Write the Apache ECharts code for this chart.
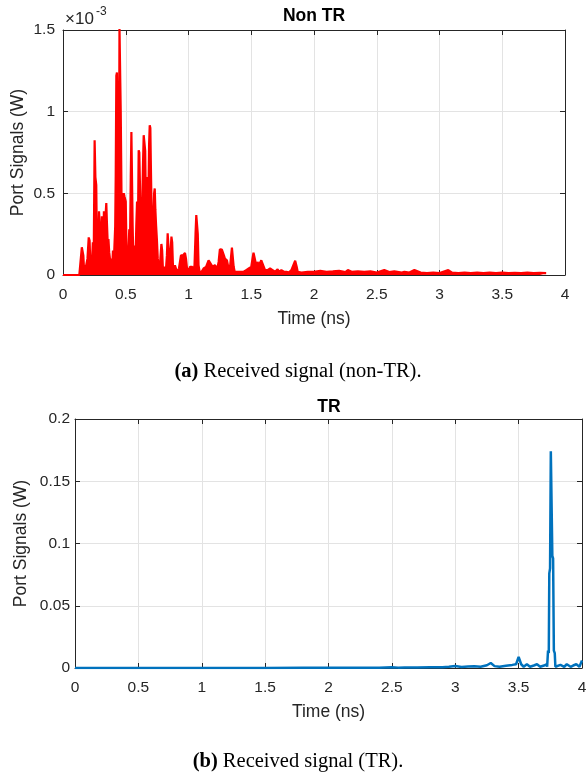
<!DOCTYPE html>
<html>
<head>
<meta charset="utf-8">
<script src="https://cdn.jsdelivr.net/npm/echarts@6/dist/echarts.min.js"></script>
<style>
  html, body { margin: 0; padding: 0; background: #fff; }
  #chart { width: 586px; height: 776px; }
</style>
</head>
<body>
<div id="chart"></div>
<script>
// Non TR received power, time in ns, power in units of 1e-3 W
const nonTrTime = [
  0, 0.13, 0.14, 0.15, 0.156, 0.162, 0.168, 0.175, 0.185, 0.195, 0.205, 0.212, 0.218, 0.225, 0.232, 0.238, 0.245,
  0.252, 0.258, 0.265, 0.27, 0.275, 0.28, 0.287, 0.293, 0.3, 0.305, 0.31, 0.315, 0.32, 0.326, 0.332, 0.338, 0.345,
  0.35, 0.356, 0.362, 0.368, 0.374, 0.38, 0.386, 0.392, 0.398, 0.404, 0.41, 0.416, 0.42, 0.425, 0.43, 0.436, 0.44,
  0.445, 0.45, 0.455, 0.46, 0.466, 0.472, 0.478, 0.484, 0.49, 0.496, 0.5, 0.505, 0.51, 0.516, 0.522, 0.528, 0.534,
  0.54, 0.545, 0.55, 0.555, 0.56, 0.566, 0.572, 0.578, 0.584, 0.59, 0.596, 0.603, 0.608, 0.613, 0.618, 0.623, 0.628,
  0.633, 0.638, 0.643, 0.648, 0.655, 0.66, 0.665, 0.67, 0.675, 0.68, 0.686, 0.691, 0.696, 0.7, 0.705, 0.71, 0.716,
  0.72, 0.726, 0.731, 0.736, 0.742, 0.748, 0.755, 0.762, 0.77, 0.776, 0.784, 0.79, 0.796, 0.804, 0.812, 0.82, 0.828,
  0.834, 0.84, 0.846, 0.852, 0.858, 0.864, 0.87, 0.876, 0.884, 0.892, 0.9, 0.908, 0.916, 0.924, 0.932, 0.94, 0.948,
  0.956, 0.964, 0.972, 0.98, 0.988, 0.996, 1.004, 1.012, 1.02, 1.03, 1.04, 1.048, 1.056, 1.062, 1.068, 1.074, 1.08,
  1.088, 1.096, 1.104, 1.112, 1.12, 1.13, 1.14, 1.15, 1.16, 1.168, 1.176, 1.184, 1.192, 1.2, 1.21, 1.22, 1.23, 1.24,
  1.25, 1.258, 1.266, 1.274, 1.282, 1.29, 1.298, 1.306, 1.314, 1.322, 1.33, 1.34, 1.346, 1.352, 1.36, 1.368, 1.376,
  1.384, 1.392, 1.4, 1.41, 1.42, 1.43, 1.44, 1.45, 1.46, 1.47, 1.48, 1.49, 1.5, 1.51, 1.518, 1.526, 1.534, 1.542,
  1.55, 1.56, 1.57, 1.58, 1.59, 1.6, 1.61, 1.62, 1.63, 1.64, 1.65, 1.66, 1.67, 1.68, 1.69, 1.7, 1.71, 1.72, 1.73,
  1.74, 1.75, 1.76, 1.77, 1.78, 1.79, 1.8, 1.81, 1.82, 1.83, 1.84, 1.85, 1.856, 1.862, 1.87, 1.88, 1.9, 1.95, 2.0,
  2.05, 2.1, 2.15, 2.2, 2.25, 2.27, 2.3, 2.35, 2.4, 2.45, 2.5, 2.56, 2.6, 2.64, 2.7, 2.72, 2.76, 2.8, 2.85, 2.9,
  2.95, 3.0, 3.07, 3.1, 3.15, 3.2, 3.25, 3.3, 3.35, 3.4, 3.45, 3.5, 3.55, 3.6, 3.65, 3.7, 3.75, 3.8, 3.85
];
const nonTrPower = [
  0, 0, 0.01, 0.17, 0.18, 0.12, 0.03, 0.02, 0.06, 0.1, 0.23, 0.21, 0.06, 0.03, 0.1, 0.2, 0.12,
  0.825, 0.6, 0.55, 0.2, 0.08, 0.16, 0.39, 0.3, 0.12, 0.2, 0.36, 0.25, 0.15, 0.39, 0.3, 0.35, 0.44,
  0.32, 0.2, 0.22, 0.14, 0.1, 0.05, 0.1, 0.04, 0.15, 0.06, 0.18, 0.3, 0.6, 1.22, 1.24, 0.9, 0.4,
  0.3, 1.52, 1.52, 1.0, 0.5, 0.2, 0.48, 0.5, 0.48, 0.49, 0.45, 0.2, 0.04, 0.06, 0.15, 0.28, 0.2,
  0.6, 0.876, 0.87, 0.3, 0.12, 0.05, 0.18, 0.1, 0.3, 0.45, 0.2, 0.764, 0.75, 0.56, 0.3, 0.15, 0.3,
  0.5, 0.7, 0.856, 0.85, 0.76, 0.45, 0.6, 0.4, 0.3, 0.45, 0.8, 0.917, 0.9, 0.68, 0.43, 0.3, 0.25,
  0.35, 0.5, 0.53, 0.4, 0.3, 0.22, 0.1, 0.06, 0.03, 0.1, 0.19, 0.15, 0.04, 0.02, 0.05, 0.03, 0.12,
  0.255, 0.25, 0.1, 0.06, 0.15, 0.235, 0.2, 0.06, 0.03, 0.06, 0.04, 0.05, 0.02, 0.04, 0.08, 0.12, 0.11,
  0.12, 0.13, 0.135, 0.1, 0.04, 0.05, 0.03, 0.05, 0.04, 0.05, 0.03, 0.06, 0.25, 0.367, 0.36, 0.25, 0.06,
  0.02, 0.01, 0.02, 0.03, 0.04, 0.03, 0.05, 0.06, 0.09, 0.09, 0.07, 0.06, 0.05, 0.04, 0.06, 0.05, 0.04, 0.08,
  0.157, 0.15, 0.155, 0.157, 0.12, 0.1, 0.11, 0.09, 0.06, 0.05, 0.04, 0.12, 0.167, 0.16, 0.05, 0.02, 0.01,
  0.02, 0.03, 0.02, 0.03, 0.02, 0.03, 0.02, 0.01, 0.03, 0.02, 0.04, 0.03, 0.05, 0.1, 0.137, 0.13, 0.08, 0.05,
  0.08, 0.06, 0.05, 0.09, 0.092, 0.05, 0.03, 0.02, 0.03, 0.02, 0.04, 0.04, 0.03, 0.035, 0.02, 0.03, 0.035, 0.02, 0.02,
  0.03, 0.025, 0.02, 0.03, 0.02, 0.02, 0.015, 0.02, 0.03, 0.05, 0.05, 0.087, 0.087, 0.05, 0.02, 0.01, 0.015, 0.02, 0.02,
  0.025, 0.02, 0.022, 0.025, 0.018, 0.03, 0.02, 0.022, 0.02, 0.022, 0.015, 0.03, 0.018, 0.022, 0.015, 0.02, 0.015, 0.03, 0.015, 0.012,
  0.015, 0.012, 0.03, 0.015, 0.012, 0.015, 0.012, 0.015, 0.012, 0.014, 0.012, 0.015, 0.012, 0.013, 0.012, 0.014, 0.012, 0.013, 0.012
];

// TR received power, time in ns, power in W
const trTime = [
  0, 0.5, 1.0, 1.5, 1.8, 2.0, 2.2, 2.4, 2.5, 2.55, 2.6, 2.7, 2.8, 2.9, 2.95, 3.0, 3.05, 3.1, 3.15, 3.2, 3.25,
  3.28, 3.31, 3.35, 3.4, 3.45, 3.48, 3.5, 3.52, 3.54, 3.565, 3.59, 3.62, 3.645, 3.67, 3.7, 3.72, 3.725, 3.732,
  3.738, 3.742, 3.748, 3.754, 3.76, 3.766, 3.772, 3.778, 3.785, 3.79, 3.8, 3.83, 3.86, 3.88, 3.91, 3.93, 3.955,
  3.98, 4.0
];
const trPower = [
  0, 0.0001, 0.0001, 0.0001, 0.0002, 0.0002, 0.0002, 0.0003, 0.0006, 0.0003, 0.0005, 0.0004, 0.0006, 0.0007, 0.001,
  0.0016, 0.0008, 0.0012, 0.0015, 0.001, 0.0022, 0.004, 0.0015, 0.001, 0.0018, 0.0025, 0.003, 0.009, 0.003, 0.001,
  0.003, 0.001, 0.002, 0.003, 0.001, 0.002, 0.003, 0.001, 0.014, 0.012, 0.076, 0.08, 0.174, 0.1745, 0.09, 0.088,
  0.014, 0.012, 0.001, 0.001, 0.0025, 0.001, 0.003, 0.001, 0.002, 0.003, 0.001, 0.006
];

const xTicks = { min: 0, max: 4, interval: 0.5 };
const topYTicks = { min: 0, max: 1.5, interval: 0.5 };
const bottomYTicks = { min: 0, max: 0.2, interval: 0.05 };

const axisColor = '#262626';
const gridColor = '#e3e3e3';
const sans = 'Liberation Sans, Arial, sans-serif';

function pairs(xs, ys) {
  return xs.map((x, i) => [x, ys[i]]);
}

function mainX(gridIndex) {
  return {
    type: 'value', gridIndex, position: 'bottom', ...xTicks,
    axisLine: { show: true, onZero: false, lineStyle: { color: axisColor, width: 1 } },
    axisTick: { show: true, inside: true, length: 5, lineStyle: { color: axisColor } },
    splitLine: { show: true, lineStyle: { color: gridColor, width: 1 } },
    axisLabel: { color: axisColor, fontFamily: sans, fontSize: 15.5, margin: 12 },
    name: 'Time (ns)', nameLocation: 'middle', nameGap: 35, nameMoveOverlap: false,
    nameTextStyle: { color: axisColor, fontFamily: sans, fontSize: 17.5 }
  };
}

function mirrorX(gridIndex) {
  return {
    type: 'value', gridIndex, position: 'top', ...xTicks,
    axisLine: { show: true, onZero: false, lineStyle: { color: axisColor, width: 1 } },
    axisTick: { show: true, inside: true, length: 5, lineStyle: { color: axisColor } },
    splitLine: { show: false },
    axisLabel: { show: false }
  };
}

function mainY(gridIndex, ticks, gap, margin) {
  return {
    type: 'value', gridIndex, position: 'left', ...ticks,
    axisLine: { show: true, onZero: false, lineStyle: { color: axisColor, width: 1 } },
    axisTick: { show: true, inside: true, length: 5, lineStyle: { color: axisColor } },
    splitLine: { show: true, lineStyle: { color: gridColor, width: 1 } },
    axisLabel: { color: axisColor, fontFamily: sans, fontSize: 15.5, margin },
    name: 'Port Signals (W)', nameLocation: 'middle', nameGap: gap, nameMoveOverlap: false,
    nameTextStyle: { color: axisColor, fontFamily: sans, fontSize: 17.5 }
  };
}

function mirrorY(gridIndex, ticks) {
  return {
    type: 'value', gridIndex, position: 'right', ...ticks,
    axisLine: { show: true, onZero: false, lineStyle: { color: axisColor, width: 1 } },
    axisTick: { show: true, inside: true, length: 5, lineStyle: { color: axisColor } },
    splitLine: { show: false },
    axisLabel: { show: false }
  };
}

const chart = echarts.init(document.getElementById('chart'), null, { renderer: 'canvas' });

chart.setOption({
  animation: false,
  backgroundColor: '#fff',
  grid: [
    { left: 63, top: 30, width: 502, height: 245, outerBoundsMode: 'none', containLabel: false },
    { left: 75, top: 419, width: 507, height: 249, outerBoundsMode: 'none', containLabel: false }
  ],
  xAxis: [mainX(0), mirrorX(0), mainX(1), mirrorX(1)],
  yAxis: [mainY(0, topYTicks, 36, 8), mirrorY(0, topYTicks), mainY(1, bottomYTicks, 45, 5), mirrorY(1, bottomYTicks)],
  series: [
    {
      type: 'line', xAxisIndex: 0, yAxisIndex: 0,
      data: pairs(nonTrTime, nonTrPower),
      showSymbol: false, clip: true,
      lineStyle: { color: '#ff0000', width: 2.2 },
      areaStyle: { color: '#ff0000', opacity: 1 }
    },
    {
      type: 'line', xAxisIndex: 2, yAxisIndex: 2,
      data: pairs(trTime, trPower),
      showSymbol: false, clip: true,
      lineStyle: { color: '#0072bd', width: 2.5 }
    }
  ],
  graphic: [
    { type: 'text', left: 65, top: 11, style: { text: '×10', fontFamily: sans, fontSize: 17, fill: axisColor } },
    { type: 'text', left: 96, top: 6, style: { text: '-3', fontFamily: sans, fontSize: 12, fill: axisColor } },
    { type: 'text', x: 314, y: 16, style: { text: 'Non TR', fontFamily: sans, fontSize: 17.5, fontWeight: 'bold', fill: '#000', align: 'center', verticalAlign: 'middle' } },
    { type: 'text', x: 329, y: 407, style: { text: 'TR', fontFamily: sans, fontSize: 17.5, fontWeight: 'bold', fill: '#000', align: 'center', verticalAlign: 'middle' } },
    {
      type: 'text', x: 298, y: 372,
      style: {
        text: '{b|(a)} Received signal (non-TR).', align: 'center', verticalAlign: 'middle',
        fontFamily: 'Liberation Serif, serif', fontSize: 20.5, fill: '#000',
        rich: { b: { fontWeight: 'bold', fontFamily: 'Liberation Serif, serif', fontSize: 20.5 } }
      }
    },
    {
      type: 'text', x: 298, y: 762,
      style: {
        text: '{b|(b)} Received signal (TR).', align: 'center', verticalAlign: 'middle',
        fontFamily: 'Liberation Serif, serif', fontSize: 20.5, fill: '#000',
        rich: { b: { fontWeight: 'bold', fontFamily: 'Liberation Serif, serif', fontSize: 20.5 } }
      }
    }
  ]
});
</script>
</body>
</html>
